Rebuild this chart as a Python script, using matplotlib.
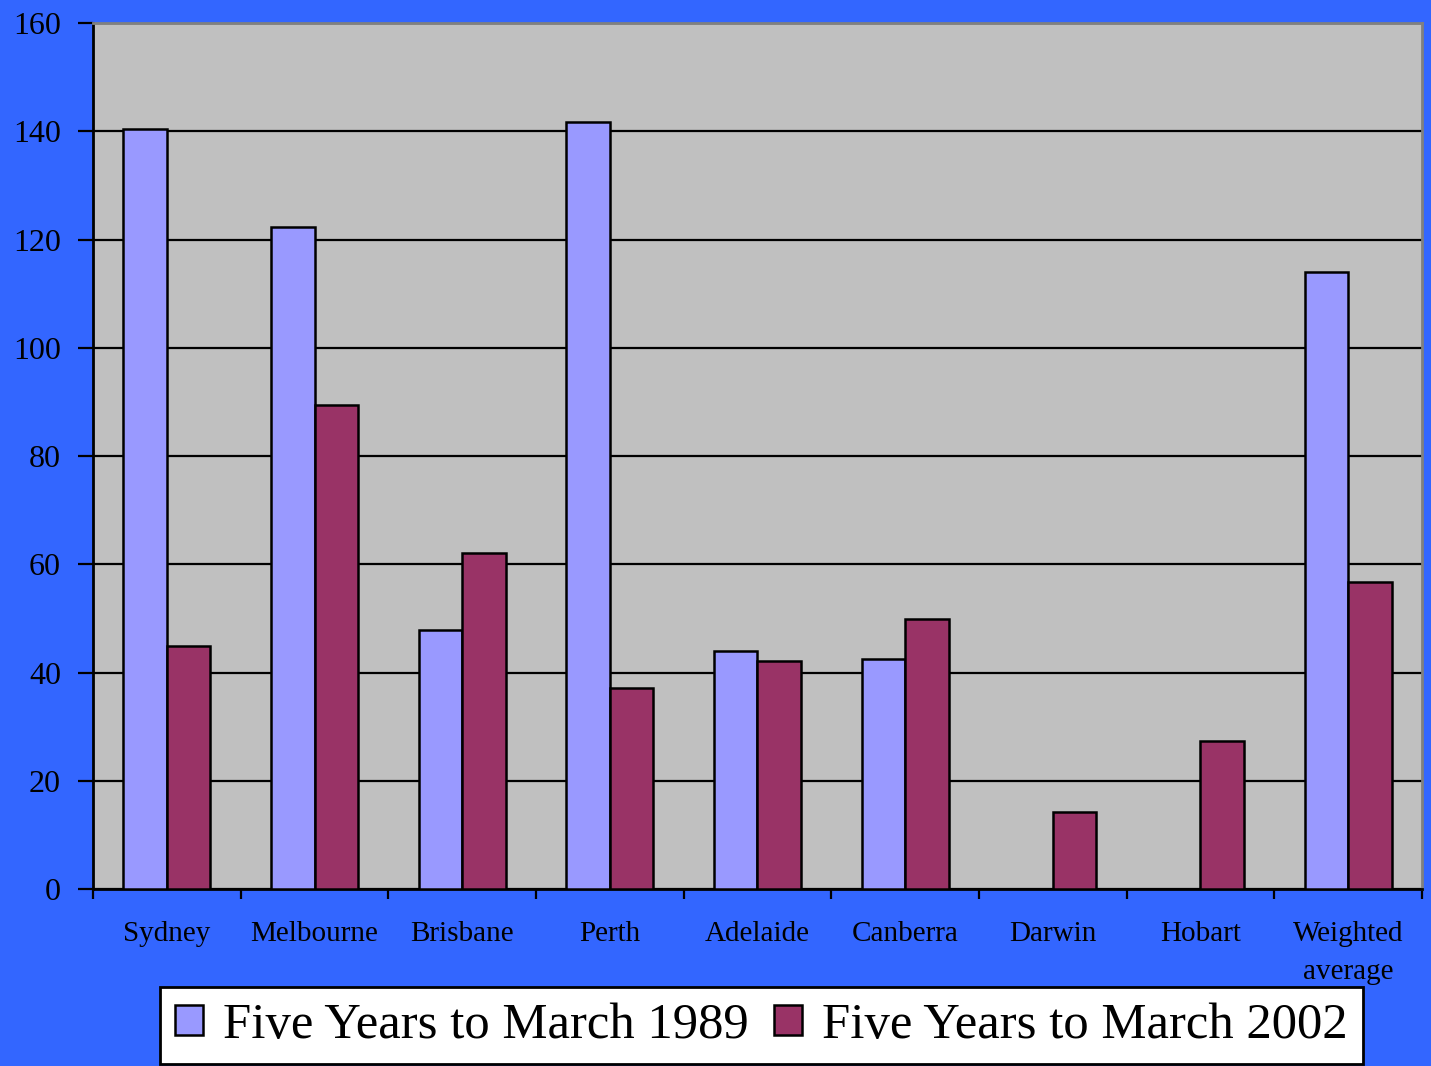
"""Dwelling price growth by city: two five-year periods, side by side."""

import numpy as np
import matplotlib.pyplot as plt
from matplotlib import ticker
from matplotlib.patches import Patch

CITIES = ["Sydney", "Melbourne", "Brisbane", "Perth", "Adelaide",
          "Canberra", "Darwin", "Hobart", "Weighted\naverage"]
SERIES_1989 = [140.4, 122.3, 47.9, 141.7, 44.0, 42.5, np.nan, np.nan, 114.0]
SERIES_2002 = [44.9, 89.4, 62.1, 37.1, 42.1, 49.9, 14.2, 27.3, 56.7]
LABELS = ["Five Years to March 1989", "Five Years to March 2002"]

BLUE_BG = "#3366FF"
PLOT_BG = "#C0C0C0"
LILAC = "#9999FF"
PLUM = "#993366"
FONT = "Liberation Serif"


def main() -> None:
    plt.rcParams.update({"font.family": FONT})

    fig = plt.figure(figsize=(14.31, 10.66), dpi=100)
    fig.patch.set_facecolor(BLUE_BG)
    ax = fig.add_axes([0.065, 0.166, 0.9287, 0.8124])
    ax.set_facecolor(PLOT_BG)

    x = np.arange(len(CITIES))
    width = 0.295
    ax.bar(x - width / 2, SERIES_1989, width, color=LILAC,
           edgecolor="black", linewidth=1.8, zorder=3)
    ax.bar(x + width / 2, SERIES_2002, width, color=PLUM,
           edgecolor="black", linewidth=1.8, zorder=3)

    ax.set_ylim(0, 160)
    ax.set_xlim(-0.5, len(CITIES) - 0.5)
    ax.yaxis.set_major_locator(ticker.MultipleLocator(20))
    ax.grid(axis="y", color="black", linewidth=1.6, zorder=1)
    ax.set_axisbelow(True)

    # category labels centred, ticks on category boundaries
    ax.set_xticks(x)
    ax.set_xticklabels(CITIES, fontsize=21, linespacing=1.6, va="top")
    ax.tick_params(axis="x", which="major", length=0, pad=23)
    ax.set_xticks(np.arange(len(CITIES) + 1) - 0.5, minor=True)
    ax.tick_params(axis="x", which="minor", length=7, width=1.6,
                   direction="out", color="black")
    ax.tick_params(axis="y", length=11, width=1.6, labelsize=23, pad=12)

    for side in ("left", "bottom"):
        ax.spines[side].set_color("black")
        ax.spines[side].set_linewidth(2)
    for side in ("top", "right"):
        ax.spines[side].set_color("#808080")
        ax.spines[side].set_linewidth(2)

    handles = [
        Patch(facecolor=LILAC, edgecolor="black", linewidth=1.8, label=LABELS[0]),
        Patch(facecolor=PLUM, edgecolor="black", linewidth=1.8, label=LABELS[1]),
    ]
    leg = fig.legend(
        handles=handles,
        loc="center",
        bbox_to_anchor=(0.532, 0.038),
        ncol=2,
        fontsize=36.5,
        frameon=True,
        fancybox=False,
        handlelength=0.55,
        handleheight=0.55,
        handletextpad=0.4,
        columnspacing=0.5,
        borderpad=0.3,
        borderaxespad=0,
    )
    frame = leg.get_frame()
    frame.set_facecolor("white")
    frame.set_edgecolor("black")
    frame.set_linewidth(2)
    frame.set_alpha(1)

    fig.savefig("out.png", dpi=100, facecolor=BLUE_BG)
    plt.close(fig)


if __name__ == "__main__":
    main()
